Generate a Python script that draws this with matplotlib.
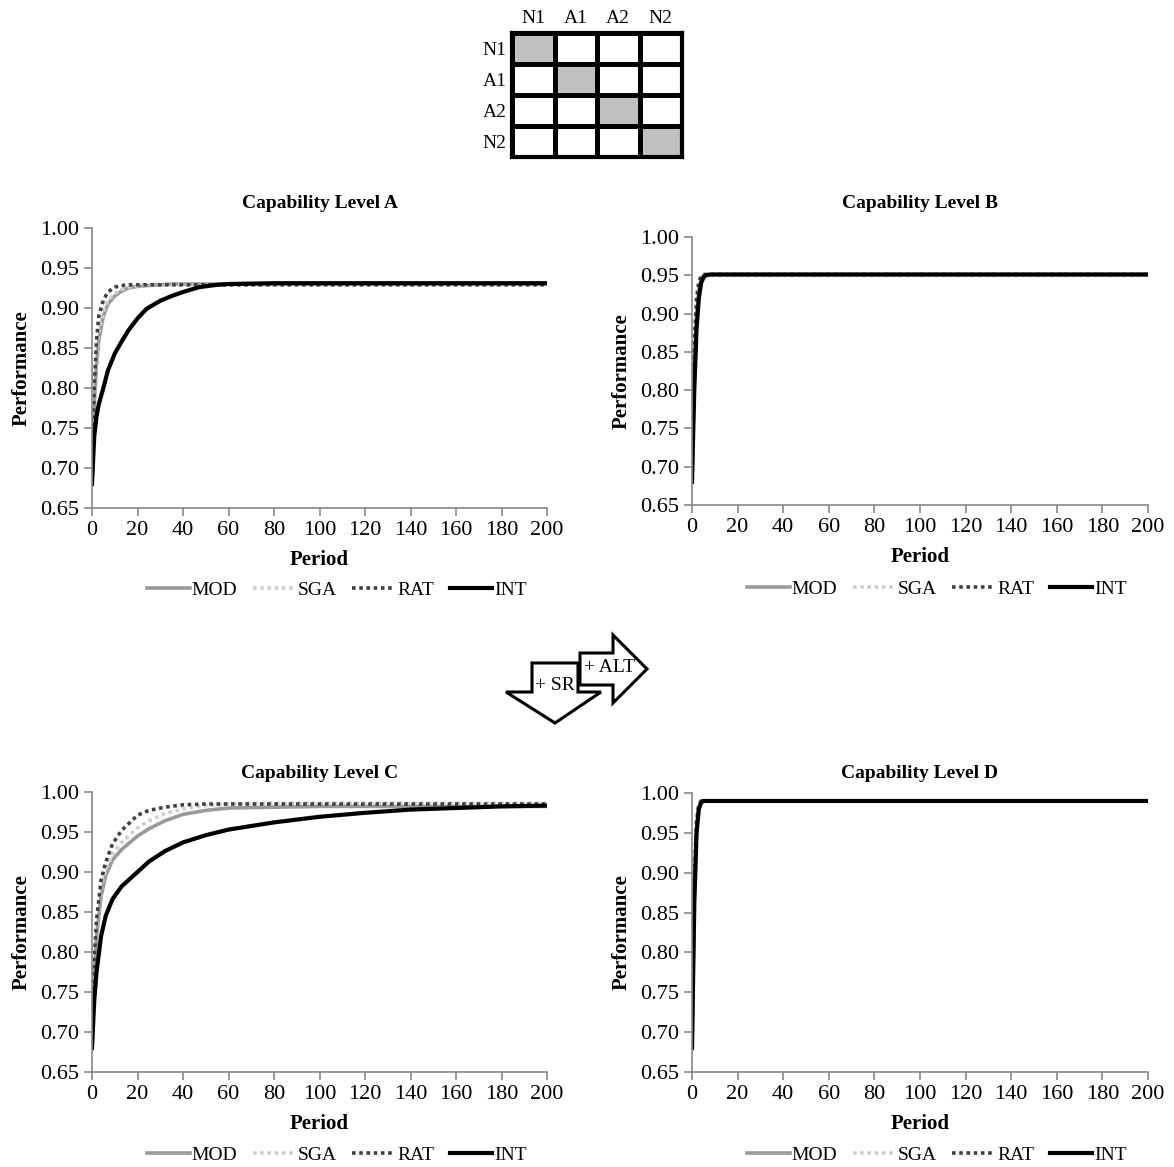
# -*- coding: utf-8 -*-
"""
Performance over time for four capability levels, with a small role matrix on top
"""

import numpy as np
import matplotlib
matplotlib.use('Agg')
import matplotlib.pyplot as plt
from matplotlib.colors import ListedColormap
from matplotlib.lines import Line2D
from matplotlib.patches import Polygon

plt.rcParams['font.family'] = ['Liberation Serif', 'DejaVu Serif']

W, H = 1174, 1167

## Matrix on top
roles = ['N1', 'A1', 'A2', 'N2']
matrix = [[1, 0, 0, 0],
          [0, 1, 0, 0],
          [0, 0, 1, 0],
          [0, 0, 0, 1]]

## Series
series_names = ['MOD', 'SGA', 'RAT', 'INT']

period_a = [0, 1, 2, 3, 5, 7, 10, 13, 16, 20, 24, 30, 35, 40, 47, 55, 60, 80, 100, 150, 200]
mod_a = [0.68, 0.78, 0.83, 0.86, 0.89, 0.905, 0.915, 0.921, 0.925, 0.927, 0.928, 0.929, 0.930, 0.930, 0.930, 0.930, 0.930, 0.930, 0.930, 0.930, 0.930]
sga_a = [0.68, 0.79, 0.84, 0.87, 0.895, 0.91, 0.918, 0.923, 0.926, 0.928, 0.929, 0.929, 0.929, 0.929, 0.929, 0.929, 0.929, 0.929, 0.929, 0.929, 0.929]
rat_a = [0.68, 0.80, 0.86, 0.89, 0.91, 0.92, 0.926, 0.928, 0.929, 0.929, 0.929, 0.929, 0.929, 0.929, 0.929, 0.929, 0.929, 0.929, 0.929, 0.929, 0.929]
int_a = [0.68, 0.74, 0.765, 0.78, 0.80, 0.822, 0.843, 0.858, 0.872, 0.887, 0.899, 0.909, 0.915, 0.920, 0.926, 0.929, 0.930, 0.931, 0.931, 0.931, 0.931]

period_b = [0, 1, 2, 3, 4, 5, 6, 8, 10, 50, 100, 150, 200]
mod_b = [0.68, 0.83, 0.90, 0.93, 0.945, 0.950, 0.951, 0.951, 0.951, 0.951, 0.951, 0.951, 0.951]
sga_b = [0.68, 0.84, 0.905, 0.935, 0.947, 0.950, 0.951, 0.951, 0.951, 0.951, 0.951, 0.951, 0.951]
rat_b = [0.68, 0.86, 0.92, 0.942, 0.949, 0.951, 0.951, 0.951, 0.951, 0.951, 0.951, 0.951, 0.951]
int_b = [0.68, 0.80, 0.88, 0.92, 0.94, 0.947, 0.950, 0.951, 0.951, 0.951, 0.951, 0.951, 0.951]

period_c = [0, 1, 2, 4, 6, 9, 13, 20, 25, 32, 40, 50, 60, 80, 100, 120, 140, 160, 180, 200]
mod_c = [0.68, 0.77, 0.82, 0.87, 0.895, 0.915, 0.928, 0.945, 0.954, 0.964, 0.972, 0.977, 0.980, 0.981, 0.982, 0.982, 0.982, 0.982, 0.982, 0.982]
sga_c = [0.68, 0.78, 0.83, 0.88, 0.903, 0.922, 0.937, 0.955, 0.964, 0.973, 0.979, 0.983, 0.985, 0.986, 0.986, 0.986, 0.986, 0.986, 0.986, 0.986]
rat_c = [0.68, 0.79, 0.84, 0.89, 0.912, 0.935, 0.952, 0.971, 0.977, 0.981, 0.984, 0.985, 0.985, 0.985, 0.985, 0.985, 0.985, 0.985, 0.985, 0.985]
int_c = [0.68, 0.74, 0.775, 0.82, 0.845, 0.866, 0.882, 0.900, 0.913, 0.926, 0.937, 0.946, 0.953, 0.962, 0.969, 0.974, 0.978, 0.980, 0.982, 0.983]

period_d = [0, 1, 2, 3, 4, 5, 6, 10, 50, 100, 150, 200]
mod_d = [0.68, 0.87, 0.955, 0.982, 0.989, 0.990, 0.990, 0.990, 0.990, 0.990, 0.990, 0.990]
sga_d = [0.68, 0.88, 0.96, 0.984, 0.989, 0.990, 0.990, 0.990, 0.990, 0.990, 0.990, 0.990]
rat_d = [0.68, 0.89, 0.965, 0.986, 0.990, 0.990, 0.990, 0.990, 0.990, 0.990, 0.990, 0.990]
int_d = [0.68, 0.86, 0.95, 0.980, 0.988, 0.990, 0.990, 0.990, 0.990, 0.990, 0.990, 0.990]

# title, periods, series, axes pixel box, title y, legend centre
panels = [
    ('Capability Level A', period_a, [mod_a, sga_a, rat_a, int_a], (92, 228, 547, 508), 203, (337, 590)),
    ('Capability Level B', period_b, [mod_b, sga_b, rat_b, int_b], (692, 237, 1148, 505), 203, (937, 589)),
    ('Capability Level C', period_c, [mod_c, sga_c, rat_c, int_c], (92, 792, 547, 1072), 773, (337, 1155)),
    ('Capability Level D', period_d, [mod_d, sga_d, rat_d, int_d], (692, 793, 1148, 1072), 773, (937, 1155)),
]

styles = [
    dict(color='#9a9a9a', lw=2.6, ls='-'),
    dict(color='#cfcfcf', lw=2.6, ls=(0, (1, 1))),
    dict(color='#404040', lw=2.6, ls=(0, (1, 1))),
    dict(color='black', lw=3.0, ls='-'),
]


def box(x0, y0, x1, y1):
    # pixel box (top-left / bottom-right) -> figure fraction rect
    return [x0 / W, 1 - y1 / H, (x1 - x0) / W, (y1 - y0) / H]


fig = plt.figure(figsize=(W / 100, H / 100), dpi=100)

## Role matrix
axm = fig.add_axes(box(512, 33, 682, 157))
axm.pcolormesh(np.array(matrix), cmap=ListedColormap(['white', '#c0c0c0']),
               edgecolors='black', linewidth=2.5)
axm.set_xlim(0, 4)
axm.set_ylim(4, 0)
axm.set_xticks(np.arange(4) + 0.5)
axm.set_xticklabels(roles, fontsize=14)
axm.set_yticks(np.arange(4) + 0.5)
axm.set_yticklabels(roles, fontsize=14)
axm.xaxis.tick_top()
axm.tick_params(length=0, pad=4)
for s in axm.spines.values():
    s.set_linewidth(3)

## Line charts
for title, x, ys, pix, ty, leg in panels:
    ax = fig.add_axes(box(*pix))
    for y, st in zip(ys, styles):
        ax.plot(x, y, **st)
    ax.set_xlim(0, 200)
    ax.set_ylim(0.65, 1.00)
    ax.set_xticks(range(0, 201, 20))
    ax.set_yticks(np.arange(0.65, 1.001, 0.05))
    ax.yaxis.set_major_formatter(plt.FormatStrFormatter('%.2f'))
    ax.tick_params(labelsize=16, color='#888888', length=6, width=1.2)
    for side in ['top', 'right']:
        ax.spines[side].set_visible(False)
    for side in ['left', 'bottom']:
        ax.spines[side].set_color('#888888')
        ax.spines[side].set_linewidth(1.2)
    fig.text((pix[0] + pix[2]) / 2 / W, 1 - ty / H, title, ha='center', va='center',
             fontsize=14, fontweight='bold')
    ax.set_xlabel('Period', fontsize=15, fontweight='bold', labelpad=7)
    ax.set_ylabel('Performance', fontsize=15, fontweight='bold', labelpad=6)
    handles = [Line2D([], [], **st) for st in styles]
    fig.legend(handles, series_names, loc='center', ncol=4, frameon=False,
               fontsize=14, handlelength=2.2, handletextpad=0.1, columnspacing=0.8,
               bbox_to_anchor=(leg[0] / W, 1 - leg[1] / H))

## Arrows between the rows
def fig_xy(pts):
    return [(px / W, 1 - py / H) for px, py in pts]

down = [(532, 663), (578, 663), (578, 692), (601, 692), (555, 723), (506, 692), (532, 692)]
right = [(580, 653), (613, 653), (613, 635), (647, 669), (613, 703), (613, 685), (580, 685)]
for pts in [down, right]:
    fig.patches.append(Polygon(fig_xy(pts), closed=True, facecolor='white',
                               edgecolor='black', linewidth=2.2,
                               transform=fig.transFigure, figure=fig))
fig.text(555 / W, 1 - 686 / H, '+ SR', ha='center', va='center', fontsize=14)
fig.text(610 / W, 1 - 668 / H, '+ ALT', ha='center', va='center', fontsize=14)

plt.savefig('out.png', dpi=100)
